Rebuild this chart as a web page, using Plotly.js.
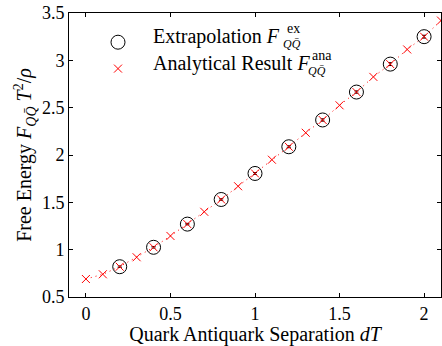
<!DOCTYPE html>
<html><head><meta charset="utf-8">
<script src="https://cdn.plot.ly/plotly-3.0.1.min.js"></script>
<style>body{margin:0;padding:0;background:#fff}#plot{width:442px;height:346px}</style>
</head><body><div id="plot"></div>
<script>
const anaX = [0,0.1,0.2,0.3,0.4,0.5,0.6,0.7,0.8,0.9,1.0,1.1,1.2,1.3,1.4,1.5,1.6,1.7,1.8,1.9,2.0,2.1];
const anaY = [0.69,0.74,0.82,0.92,1.025,1.145,1.27,1.40,1.53,1.67,1.805,1.95,2.087,2.235,2.37,2.525,2.665,2.825,2.96,3.115,3.25,3.42];
const exX = [0.2,0.4,0.6,0.8,1.0,1.2,1.4,1.6,1.8,2.0];
const exY = [0.82,1.025,1.27,1.53,1.805,2.087,2.37,2.665,2.96,3.25];
const exErr = [0.008,0.008,0.008,0.008,0.01,0.01,0.012,0.012,0.015,0.015];
const xTicks = [0,0.5,1,1.5,2];
const yTicks = [0.5,1,1.5,2,2.5,3,3.5];
const labelEx = ['Extrapolation <i>F</i>', 'ex', '<i>QQ̄</i>'];
const labelAna = ['Analytical Result <i>F</i>', 'ana', '<i>QQ̄</i>'];

const font = "'Liberation Serif', 'DejaVu Serif', serif";
const clear = 'rgba(0,0,0,0)';
const traces = [
  {x: anaX, y: anaY, type:'scatter', mode:'lines', showlegend:false, hoverinfo:'skip',
   line:{color:'#ff0000', width:1, dash:'1px,4px'}},
  {x: exX, y: exY, type:'scatter', mode:'markers', name:' ',
   marker:{symbol:'circle-open', size:14, color:'#000', line:{width:1, color:'#000'}},
   error_y:{type:'data', array: exErr, visible:true, color:'#000', thickness:1, width:2}},
  {x: anaX, y: anaY, type:'scatter', mode:'markers', name:' ',
   marker:{symbol:'x-thin', size:8, color:'#ff0000', line:{width:1, color:'#ff0000'}}}
];

const px = v => (v - 69) / 372, py = v => (297 - v) / 284;
function ann(text, x, y, size) {
  return {xref:'paper', yref:'paper', x:px(x), y:py(y), xanchor:'left', yanchor:'middle', showarrow:false,
    borderpad:0, text:text, font:{family:font, size:size, color:'#000'}};
}
function legendLabel(parts, y, xs, xb) {
  return [ann(parts[0], 152, y, 20), ann(parts[1], xs, y - 8, 14), ann(parts[2], xb, y + 8, 12)];
}

const layout = {
  width:442, height:346,
  margin:{l:69, r:1, t:13, b:49},
  paper_bgcolor:'#fff', plot_bgcolor:'#fff',
  font:{family:font, size:18, color:'#000'},
  showlegend:true,
  legend:{x:(98-69)/372, y:(297-24)/284, xanchor:'left', yanchor:'top', bgcolor:clear,
    font:{family:font, size:18}, tracegroupgap:0, itemsizing:'trace'},
  annotations: legendLabel(labelEx, 36, 286, 282).concat(legendLabel(labelAna, 63, 311, 307)),
  xaxis:{range:[-0.1,2.1], tickvals:xTicks, ticktext:xTicks.map(String),
    ticks:'inside', ticklen:4, tickcolor:'#000', showline:true, linecolor:'#000', linewidth:1, mirror:'ticks',
    showgrid:false, zeroline:false, tickfont:{family:font, size:18},
    title:{text:'Quark Antiquark Separation <i>dT</i>', font:{family:font, size:20}, standoff:2}},
  yaxis:{range:[0.5,3.5], tickvals:yTicks, ticktext:yTicks.map(String),
    ticks:'inside', ticklen:4, tickcolor:'#000', showline:true, linecolor:'#000', linewidth:1, mirror:'ticks',
    showgrid:false, zeroline:false, tickfont:{family:font, size:18},
    title:{text:'Free Energy <i>F</i><sub><i>QQ̄</i></sub> <i>T</i><sup>2</sup>/<i>ρ</i>', font:{family:font, size:20}, standoff:4}}
};
Plotly.newPlot('plot', traces, layout, {displayModeBar:false, staticPlot:true});
</script></body></html>
